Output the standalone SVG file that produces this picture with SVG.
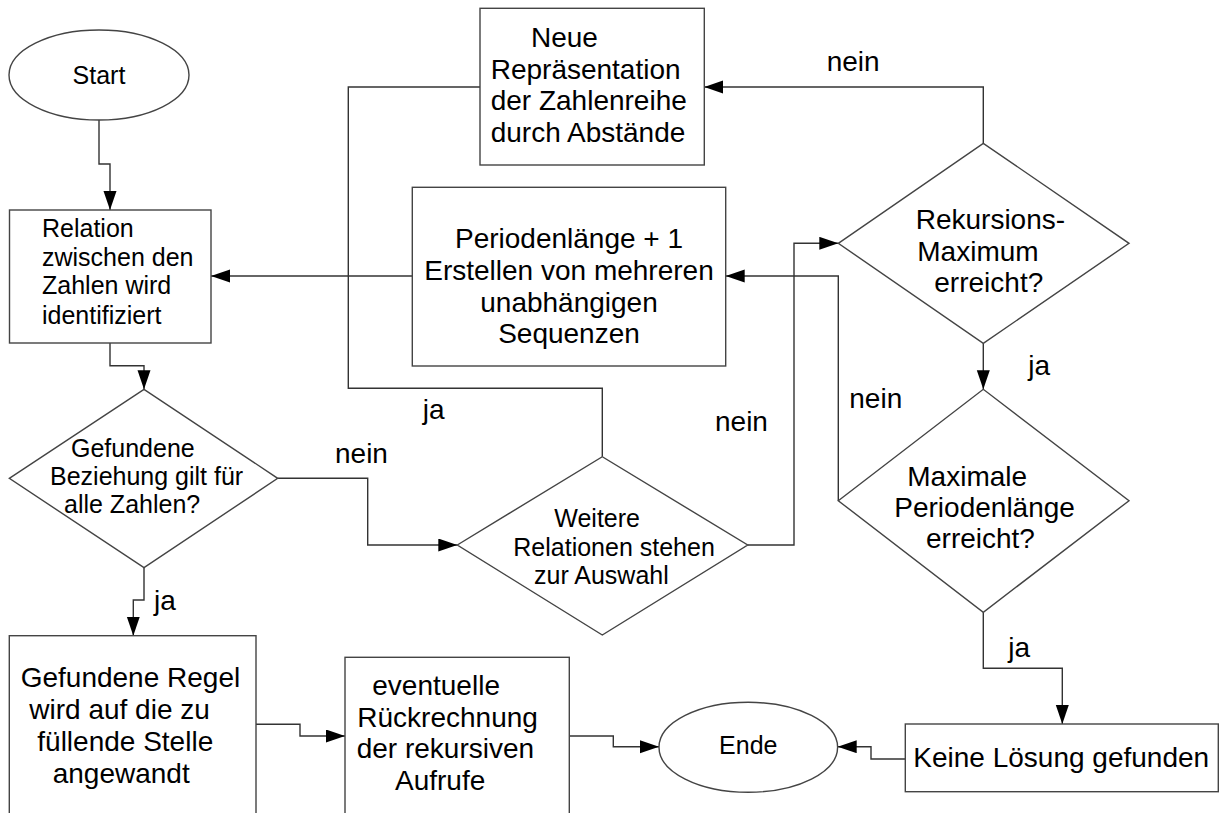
<svg xmlns="http://www.w3.org/2000/svg" width="1224" height="813" viewBox="0 0 1224 813">
<defs>
<marker id="ah" markerUnits="userSpaceOnUse" markerWidth="20" markerHeight="14" refX="19" refY="6.5" orient="auto">
<path d="M0,0 L19,6.5 L0,13 z" fill="#000"/>
</marker>
<style>
.s{fill:#fff;stroke:#444;stroke-width:1.4}
.c{fill:none;stroke:#333;stroke-width:1.4}
.a{marker-end:url(#ah)}
text{font-family:"Liberation Sans",Arial,sans-serif;fill:#000}
.t28{font-size:28px}
.t25{font-size:25px}
.m{text-anchor:middle}
</style>
</defs>
<rect width="1224" height="813" fill="#fff"/>
<g id="connectors">
<path class="c a" d="M99,120 V164 H110 V210"/>
<path class="c a" d="M412,276 H211"/>
<path class="c" d="M602.3,456.7 V388.3 H348.3 V87 H480"/>
<path class="c a" d="M983.3,143.3 V87 H704.3"/>
<path class="c a" d="M747.7,545 H794 V243.3 H838.3"/>
<path class="c a" d="M838.3,500.7 V276 H725.7"/>
<path class="c a" d="M983.3,343.3 V389.3"/>
<path class="c a" d="M983.3,612.3 V668.3 H1062.3 V724"/>
<path class="c a" d="M905.3,759 H871 V746.7 H837.7"/>
<path class="c a" d="M256,724.3 H300 V736 H345"/>
<path class="c a" d="M569.3,736 H613.3 V746.7 H659"/>
<path class="c a" d="M110,343 V365.7 H144 V389.3"/>
<path class="c a" d="M144,567.7 V600 H133.3 V635.7"/>
<path class="c a" d="M277.7,478.3 H367.7 V545 H457.3"/>
<text class="t28" x="826.7" y="71">nein</text>
<text class="t28" x="1028.3" y="375">ja</text>
<text class="t28" x="849.3" y="408.3">nein</text>
<text class="t28" x="1008.3" y="656.7">ja</text>
<text class="t28" x="422.7" y="419.3">ja</text>
<text class="t28" x="715" y="430.7">nein</text>
<text class="t28" x="335" y="463.3">nein</text>
<text class="t28" x="154" y="610">ja</text>
</g>
<g id="start">
<ellipse class="s" cx="99" cy="75" rx="90" ry="45"/>
<text class="t25 m" x="99" y="83.5">Start</text>
</g>
<g id="relation">
<rect class="s" x="9.5" y="210" width="201.5" height="133"/>
<text class="t25" x="42"><tspan x="42" y="237">Relation</tspan><tspan x="42" y="265.5">zwischen den</tspan><tspan x="42" y="294">Zahlen wird</tspan><tspan x="42" y="324">identifiziert</tspan></text>
</g>
<g id="neue">
<rect class="s" x="480" y="8.3" width="224.3" height="156.7"/>
<text class="t28"><tspan x="531" y="46.7">Neue</tspan><tspan x="490.7" y="78.7">Repräsentation</tspan><tspan x="490.7" y="110.3">der Zahlenreihe</tspan><tspan x="490.7" y="141.7">durch Abstände</tspan></text>
</g>
<g id="periode">
<rect class="s" x="412.3" y="187.3" width="313.4" height="178.7"/>
<text class="t28 m"><tspan x="569" y="248.3">Periodenlänge + 1</tspan><tspan x="569" y="280">Erstellen von mehreren</tspan><tspan x="569" y="311.7">unabhängigen</tspan><tspan x="569" y="343.3">Sequenzen</tspan></text>
</g>
<g id="rekursion">
<path class="s" d="M838.3,243.3 L983.3,143.3 L1129,243.3 L983.3,343.3 z"/>
<text class="t28"><tspan x="915.7" y="229.3">Rekursions-</tspan><tspan x="917.3" y="261">Maximum</tspan><tspan x="934.3" y="291.7">erreicht?</tspan></text>
</g>
<g id="gefundene">
<path class="s" d="M9.3,478.3 L144,389.3 L277.7,478.3 L144,567.7 z"/>
<text class="t25"><tspan x="71" y="456.7">Gefundene</tspan><tspan x="50" y="485">Beziehung gilt für</tspan><tspan x="64" y="513.3">alle Zahlen?</tspan></text>
</g>
<g id="weitere">
<path class="s" d="M457.3,545 L602.3,456.7 L747.7,545 L602.3,635 z"/>
<text class="t25"><tspan x="554.3" y="526.7">Weitere</tspan><tspan x="513.3" y="556">Relationen stehen</tspan><tspan x="534" y="584">zur Auswahl</tspan></text>
</g>
<g id="maximale">
<path class="s" d="M838.3,500.7 L983.3,389.3 L1129,500.7 L983.3,612.3 z"/>
<text class="t28"><tspan x="907.3" y="486">Maximale</tspan><tspan x="894.3" y="516.7">Periodenlänge</tspan><tspan x="926" y="548.3">erreicht?</tspan></text>
</g>
<g id="regel">
<rect class="s" x="9.3" y="635.7" width="246.7" height="200"/>
<text class="t28"><tspan x="20.7" y="686.7">Gefundene Regel</tspan><tspan x="29.3" y="719.3">wird auf die zu</tspan><tspan x="37.3" y="750.7">füllende Stelle</tspan><tspan x="52.7" y="782.7">angewandt</tspan></text>
</g>
<g id="rueckrechnung">
<rect class="s" x="345" y="657.3" width="224.3" height="200"/>
<text class="t28"><tspan x="372.3" y="695">eventuelle</tspan><tspan x="357.3" y="726.7">Rückrechnung</tspan><tspan x="356.7" y="758.3">der rekursiven</tspan><tspan x="395" y="790">Aufrufe</tspan></text>
</g>
<g id="ende">
<ellipse class="s" cx="748.3" cy="747.3" rx="89.3" ry="45"/>
<text class="t25 m" x="748.3" y="754.3">Ende</text>
</g>
<g id="keine">
<rect class="s" x="905.3" y="724" width="313" height="67.7"/>
<text class="t28" x="913.3" y="766.7">Keine Lösung gefunden</text>
</g>
</svg>
